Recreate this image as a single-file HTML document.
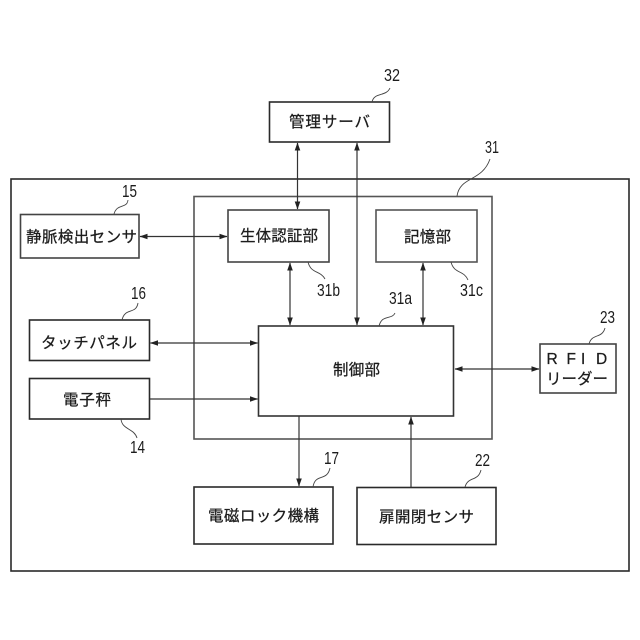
<!DOCTYPE html>
<html><head><meta charset="utf-8"><style>
html,body{margin:0;padding:0;background:#fff}
svg{display:block}
text{font-family:"Liberation Sans","Noto Sans CJK JP",sans-serif;fill:#1c1c1c}
.j{font-size:15.500px;text-anchor:start;stroke:#1c1c1c;stroke-width:.25}
.n{font-size:17.500px;text-anchor:start}
rect{fill:none;stroke:#2a2a2a;stroke-width:1.6}
.l{fill:none;stroke:#333;stroke-width:1.2}
.c{fill:none;stroke:#444;stroke-width:.9}
.a{fill:#222;stroke:none}
</style></head><body>
<svg width="640" height="640" viewBox="0 0 640 640" xmlns="http://www.w3.org/2000/svg">
<defs>
<marker id="h" markerWidth="8" markerHeight="6" refX="7.500" refY="3" orient="auto-start-reverse" markerUnits="userSpaceOnUse"><path class="a" d="M0 0.2L8 3L0 5.800Z"/></marker>
</defs>
<rect x="11" y="179" width="618" height="392"/>
<rect x="194" y="196.500" width="298" height="242.500" style="stroke:#555"/>
<rect x="269.500" y="102" width="120" height="40"/>
<rect x="20.500" y="214.500" width="118.500" height="43.500" style="stroke:#444"/>
<rect x="228" y="210" width="101" height="52" style="stroke:#444"/>
<rect x="376" y="210" width="101" height="52" style="stroke:#555"/>
<rect x="258.500" y="326" width="195" height="90" style="stroke:#333"/>
<rect x="29.500" y="320" width="120" height="40.500"/>
<rect x="29.500" y="378.500" width="120" height="40.500"/>
<rect x="194" y="487" width="139" height="57"/>
<rect x="357" y="487.500" width="139" height="57"/>
<rect x="540" y="344" width="76" height="49" style="stroke:#444"/>

<path class="l" d="M297.500 143V209" marker-start="url(#h)" marker-end="url(#h)"/>
<path class="l" d="M357 143V325" marker-start="url(#h)" marker-end="url(#h)"/>
<path class="l" d="M140 236.500H227" marker-start="url(#h)" marker-end="url(#h)"/>
<path class="l" d="M290 263V325" marker-start="url(#h)" marker-end="url(#h)"/>
<path class="l" d="M423 263V325" marker-start="url(#h)" marker-end="url(#h)"/>
<path class="l" d="M150.500 343H257.500" marker-start="url(#h)" marker-end="url(#h)"/>
<path class="l" d="M150 399H257.500" marker-end="url(#h)"/>
<path class="l" d="M455 369H539" marker-start="url(#h)" marker-end="url(#h)"/>
<path class="l" d="M299 416.500V486" marker-end="url(#h)"/>
<path class="l" d="M411 487V417" marker-end="url(#h)"/>

<path class="c" d="M372 102C374 92 386 97 390 88"/>
<path class="c" d="M457 196C460 176 482 182 490 159"/>
<path class="c" d="M114 214C117 203 127 209 128 200"/>
<path class="c" d="M122 320C125 307 136 315 138 303"/>
<path class="c" d="M121 419C122 430 134 428 137 438"/>
<path class="c" d="M308 262C311 274 320 270 325 279"/>
<path class="c" d="M451 262C454 274 464 270 468 280"/>
<path class="c" d="M379 326C382 314 392 320 395 313"/>
<path class="c" d="M313 487C315 473 327 482 330 468"/>
<path class="c" d="M465 487C468 476 478 482 481 470"/>
<path class="c" d="M589 344C592 333 602 339 605 328"/>

<text class="j" x="289" y="127" textLength="81" lengthAdjust="spacing">管理サーバ</text>
<text class="j" x="26" y="242" textLength="111" lengthAdjust="spacing">静脈検出センサ</text>
<text class="j" x="240" y="241" textLength="78" lengthAdjust="spacing">生体認証部</text>
<text class="j" x="404" y="242" textLength="47" lengthAdjust="spacing">記憶部</text>
<text class="j" x="333" y="375" textLength="47" lengthAdjust="spacing">制御部</text>
<text class="j" x="41" y="348" textLength="96" lengthAdjust="spacing">タッチパネル</text>
<text class="j" x="63" y="405" textLength="48" lengthAdjust="spacing">電子秤</text>
<text class="j" x="208" y="521" textLength="111" lengthAdjust="spacing">電磁ロック機構</text>
<text class="j" x="379" y="522" textLength="95" lengthAdjust="spacing">扉開閉センサ</text>
<text class="j" x="546.500 566.500 581 596" y="364">RFID</text>
<text class="j" x="546" y="384" textLength="62" lengthAdjust="spacing">リーダー</text>

<text class="n" x="384" y="81" textLength="16" lengthAdjust="spacingAndGlyphs">32</text>
<text class="n" x="485" y="153" textLength="14" lengthAdjust="spacingAndGlyphs">31</text>
<text class="n" x="122" y="197" textLength="15" lengthAdjust="spacingAndGlyphs">15</text>
<text class="n" x="131" y="299" textLength="15" lengthAdjust="spacingAndGlyphs">16</text>
<text class="n" x="130" y="453" textLength="15" lengthAdjust="spacingAndGlyphs">14</text>
<text class="n" x="317" y="296" textLength="23" lengthAdjust="spacingAndGlyphs">31b</text>
<text class="n" x="460" y="296" textLength="23" lengthAdjust="spacingAndGlyphs">31c</text>
<text class="n" x="389" y="304" textLength="23" lengthAdjust="spacingAndGlyphs">31a</text>
<text class="n" x="324" y="464" textLength="15" lengthAdjust="spacingAndGlyphs">17</text>
<text class="n" x="475" y="466" textLength="15" lengthAdjust="spacingAndGlyphs">22</text>
<text class="n" x="600" y="323" textLength="15" lengthAdjust="spacingAndGlyphs">23</text>
</svg>
</body></html>
